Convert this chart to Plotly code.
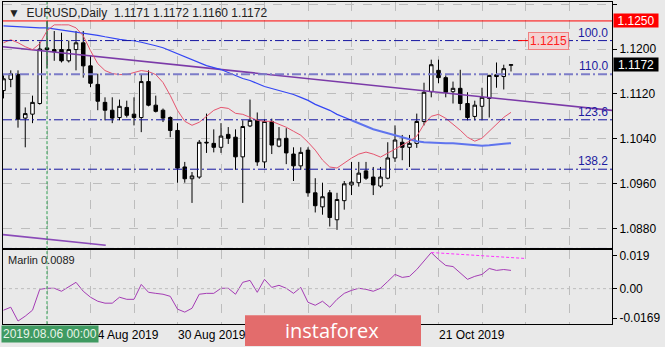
import plotly.graph_objects as go
from plotly.subplots import make_subplots

# ---------------- data ----------------
# trading-day index (0 = 2019.08.06)
idx = list(range(-6, 65))
opens = [1.1126, 1.1146, 1.1155, 1.1077, 1.1084, 1.1103, 1.1202, 1.1199, 1.1199, 1.1179,
         1.1199, 1.1211, 1.1170, 1.1137, 1.1105, 1.1091, 1.1078, 1.1096, 1.1084, 1.1078,
         1.1142, 1.1100, 1.1091, 1.1078, 1.1055, 1.0990, 1.0969, 1.0972, 1.1034, 1.1032,
         1.1025, 1.1048, 1.1043, 1.1008, 1.1063, 1.1073, 1.0999, 1.1071, 1.1027, 1.1041,
         1.1013, 1.0992, 1.1020, 1.0944, 1.0919, 1.0944, 1.0896, 1.0930, 1.0958, 1.0962,
         1.0983, 1.0972, 1.0956, 1.0970, 1.1006, 1.1034, 1.1025, 1.1032, 1.1071, 1.1124,
         1.1162, 1.1149, 1.1124, 1.1130, 1.1103, 1.1080, 1.1098, 1.1112, 1.1154, 1.1151,
         1.1171]
highs = [1.1153, 1.1162, 1.1162, 1.1096, 1.1117, 1.1213, 1.1250, 1.1232, 1.1229, 1.1215,
         1.1232, 1.1232, 1.1188, 1.1156, 1.1114, 1.1114, 1.1110, 1.1108, 1.1114, 1.1155,
         1.1162, 1.1117, 1.1094, 1.1080, 1.1068, 1.0999, 1.0981, 1.1038, 1.1085, 1.1057,
         1.1068, 1.1061, 1.1057, 1.1073, 1.1110, 1.1087, 1.1075, 1.1076, 1.1061, 1.1059,
         1.1025, 1.1025, 1.1025, 1.0970, 1.0962, 1.0949, 1.0944, 1.0965, 1.0999, 1.0999,
         1.0999, 1.0990, 1.0990, 1.1034, 1.1064, 1.1047, 1.1047, 1.1085, 1.1140, 1.1181,
         1.1181, 1.1153, 1.1142, 1.1163, 1.1123, 1.1108, 1.1131, 1.1154, 1.1176, 1.1172,
         1.1172]
lows = [1.1112, 1.1132, 1.1060, 1.1025, 1.1068, 1.1101, 1.1166, 1.1179, 1.1176, 1.1176,
        1.1162, 1.1149, 1.1132, 1.1091, 1.1073, 1.1068, 1.1073, 1.1078, 1.1064, 1.1052,
        1.1098, 1.1087, 1.1070, 1.1043, 1.0962, 1.0962, 1.0926, 1.0969, 1.1015, 1.1016,
        1.1015, 1.1031, 1.0985, 1.0926, 1.1061, 1.0992, 1.0988, 1.1013, 1.1025, 1.0995,
        1.0965, 1.0985, 1.0937, 1.0909, 1.0905, 1.0884, 1.0878, 1.0914, 1.0940, 1.0955,
        1.0967, 1.0940, 1.0953, 1.0968, 1.0999, 1.1002, 1.0990, 1.1024, 1.1064, 1.1114,
        1.1139, 1.1114, 1.1103, 1.1091, 1.1073, 1.1073, 1.1073, 1.1078, 1.1131, 1.1128,
        1.1160]
closes = [1.1147, 1.1156, 1.1075, 1.1085, 1.1105, 1.1200, 1.1199, 1.1195, 1.1179, 1.1199,
          1.1211, 1.1170, 1.1139, 1.1107, 1.1091, 1.1077, 1.1098, 1.1082, 1.1078, 1.1142,
          1.1100, 1.1089, 1.1077, 1.1055, 1.0988, 1.0969, 1.0974, 1.1034, 1.1033, 1.1025,
          1.1045, 1.1041, 1.1008, 1.1062, 1.1073, 1.0999, 1.1071, 1.1029, 1.1040, 1.1015,
          1.0992, 1.1016, 1.0944, 1.0921, 1.0937, 1.0900, 1.0932, 1.0960, 1.0963, 1.0979,
          1.0970, 1.0958, 1.0972, 1.1006, 1.1038, 1.1025, 1.1032, 1.1071, 1.1123, 1.1172,
          1.1149, 1.1123, 1.1130, 1.1103, 1.1078, 1.1100, 1.1114, 1.1153, 1.1151, 1.1165,
          1.1172]
ma_fast = [1.12112, 1.12165, 1.12112, 1.12041, 1.11988, 1.12094, 1.12324, 1.1243, 1.1243, 1.1243,
           1.12377, 1.12235, 1.1197, 1.1174, 1.11616, 1.11563, 1.11545, 1.11545, 1.11581, 1.11616,
           1.11598, 1.11545, 1.11404, 1.11173, 1.10908, 1.10713, 1.10642, 1.10696, 1.10802, 1.10908,
           1.10961, 1.10943, 1.10855, 1.10837, 1.10784, 1.10731, 1.10713, 1.10713, 1.1066, 1.10607,
           1.10536, 1.10465, 1.10341, 1.102, 1.10023, 1.09899, 1.09881, 1.0997, 1.10058, 1.10129,
           1.10165, 1.10129, 1.10076, 1.10147, 1.10218, 1.10288, 1.10359, 1.10448, 1.1066, 1.10802,
           1.10837, 1.10766, 1.1066, 1.10554, 1.1043, 1.10359, 1.10412, 1.10536, 1.1066, 1.10784,
           1.10872]
ma_slow = [1.12412, 1.12404, 1.12395, 1.12386, 1.12377, 1.12377, 1.12377, 1.12359, 1.12342, 1.12324,
           1.12306, 1.12288, 1.12271, 1.12244, 1.12218, 1.12191, 1.12173, 1.12156, 1.12147, 1.1212,
           1.12094, 1.12058, 1.12023, 1.1197, 1.11917, 1.11864, 1.11811, 1.11758, 1.11705, 1.11669,
           1.11634, 1.11581, 1.11528, 1.11474, 1.11439, 1.11386, 1.11333, 1.11297, 1.11262, 1.11227,
           1.11191, 1.11138, 1.11085, 1.11014, 1.10961, 1.10908, 1.10837, 1.10784, 1.10731, 1.10678,
           1.10625, 1.10572, 1.10536, 1.10501, 1.10465, 1.1043, 1.10395, 1.10359, 1.10341, 1.10333,
           1.10324, 1.10324, 1.10324, 1.10315, 1.10306, 1.10288, 1.1028, 1.10288, 1.10306, 1.10315,
           1.10324]
marlin = [-0.0123, -0.0106, -0.0185, -0.0157, -0.0123, -0.0004, 0.0002, 0.0002, -0.0015, 0.0013,
          0.0036, -0.0015, -0.0049, -0.0072, -0.0083, -0.0083, -0.0049, -0.0061, -0.0061, 0.0024,
          -0.0021, -0.0027, -0.0032, -0.0044, -0.0117, -0.0134, -0.0112, -0.0032, -0.0027, -0.0027,
          0.0002, 0.0002, -0.0032, 0.0036, 0.0047, -0.0021, 0.0053, 0.0007, 0.0019, 0.0002,
          -0.0027, 0.0007, -0.0078, -0.0095, -0.0072, -0.0106, -0.0061, -0.0027, -0.0010, 0.0002,
          -0.0004, -0.0015, 0.0002, 0.0041, 0.0081, 0.0064, 0.0070, 0.0109, 0.0155, 0.0206,
          0.0166, 0.0132, 0.0126, 0.0092, 0.0053, 0.0070, 0.0081, 0.0115, 0.0104, 0.0109,
          0.0104]
# divergence line on the oscillator
div_x = [53, 66]
div_y = [0.0206, 0.0172]
# trend channel (upper and lower)
upper_x = [-6.07, 77.93]
upper_y = [1.12041, 1.10908]
lower_x = [-6.07, 8.1]
lower_y = [1.08696, 1.08505]
# fibonacci levels
fib_labels = ["100.0", "110.0", "123.6", "138.2", "161.8"]
fib_prices = [1.1215, 1.1155, 1.1074, 1.0986, 1.0845]
resistance = 1.1250
marked_price = 1.1215
last_price = 1.1172
price_ticks = [1.0880, 1.0960, 1.1040, 1.1120, 1.1200, 1.1280]
osc_ticks = [0.019, 0.0, -0.0169]
osc_tick_text = ["0.019", "0.00", "-0.0169"]
date_pos = [6, 18, 54]
date_text = ["14 Aug 2019", "30 Aug 2019", "21 Oct 2019"]
split_at = 42  # slow MA drawn heavier from here on

# ---------------- layout helpers ----------------
W, H = 665, 347
def fx(p):
    return p / W
def fy(p):
    return 1 - p / H

FONT = "Liberation Sans"
BG = "#e9e9e9"

fig = make_subplots(rows=2, cols=1, shared_xaxes=True, vertical_spacing=0.0)

# trend channel
fig.add_trace(go.Scatter(x=upper_x, y=upper_y, mode="lines",
                         line=dict(color="#7b3aa8", width=1.6), hoverinfo="skip", showlegend=False), 1, 1)
fig.add_trace(go.Scatter(x=lower_x, y=lower_y, mode="lines",
                         line=dict(color="#8a4ab8", width=1.6), hoverinfo="skip", showlegend=False), 1, 1)

fig.add_trace(go.Candlestick(
    x=idx, open=opens, high=highs, low=lows, close=closes,
    increasing=dict(line=dict(color="#000000", width=1), fillcolor="#ffffff"),
    decreasing=dict(line=dict(color="#000000", width=1), fillcolor="#000000"),
    whiskerwidth=0, showlegend=False, hoverinfo="skip"), 1, 1)

k = idx.index(split_at)
fig.add_trace(go.Scatter(x=idx[:k + 1], y=ma_slow[:k + 1], mode="lines",
                         line=dict(color="#3446f4", width=1.2), hoverinfo="skip", showlegend=False), 1, 1)
fig.add_trace(go.Scatter(x=idx[k:], y=ma_slow[k:], mode="lines",
                         line=dict(color="#5f74ee", width=2), hoverinfo="skip", showlegend=False), 1, 1)
fig.add_trace(go.Scatter(x=idx, y=ma_fast, mode="lines",
                         line=dict(color="#e5546e", width=1), hoverinfo="skip", showlegend=False), 1, 1)

fig.add_trace(go.Scatter(x=idx, y=marlin, mode="lines",
                         line=dict(color="#a43cb4", width=1), hoverinfo="skip", showlegend=False), 2, 1)
fig.add_trace(go.Scatter(x=div_x, y=div_y, mode="lines",
                         line=dict(color="#ff33ff", width=1, dash="3px,2px"), hoverinfo="skip", showlegend=False), 2, 1)

shapes = []
for lab, pr in zip(fib_labels, fib_prices):
    if lab == "110.0":
        col, wd = "#7c7cc8", 2
    else:
        col, wd = "#1515a0", 1
    shapes.append(dict(type="line", xref="x domain", yref="y", x0=0, x1=1, y0=pr, y1=pr,
                       line=dict(color=col, width=wd, dash="9px,3px,2px,3px")))
shapes.append(dict(type="line", xref="x domain", yref="y", x0=0, x1=1, y0=resistance, y1=resistance,
                   line=dict(color="#ff0000", width=1)))
shapes.append(dict(type="line", xref="paper", yref="y", x0=fx(518), x1=fx(528), y0=marked_price, y1=marked_price,
                   line=dict(color="#ff0000", width=1)))
shapes.append(dict(type="line", xref="x2 domain", yref="y2", x0=0, x1=1, y0=0, y1=0,
                   line=dict(color="#bdbdbd", width=1, dash="3px,3px")))
shapes.append(dict(type="line", xref="x", yref="paper", x0=0, x1=0, y0=fy(325), y1=fy(1),
                   line=dict(color="#2e9e50", width=1, dash="3px,2px")))
shapes.append(dict(type="rect", xref="paper", yref="paper", x0=fx(245), x1=fx(421), y0=0, y1=fy(316),
                   fillcolor="#e36c6c", line=dict(width=0)))

ann = []
ann.append(dict(xref="paper", yref="paper", x=fx(6), y=fy(3), xanchor="left", yanchor="top",
                text="▼  EURUSD,Daily  1.1171 1.1172 1.1160 1.1172", showarrow=False,
                font=dict(family=FONT, size=12, color="#222222")))
ann.append(dict(xref="paper", yref="paper", x=fx(6), y=fy(252), xanchor="left", yanchor="top",
                text="Marlin 0.0089", showarrow=False,
                font=dict(family=FONT, size=11, color="#222222")))
for lab, pr in zip(fib_labels, fib_prices):
    ann.append(dict(xref="paper", yref="y", x=fx(610), y=pr, xanchor="right", yanchor="bottom",
                    text=lab, showarrow=False, yshift=-1,
                    font=dict(family=FONT, size=12, color="#1c1ca0")))
ann.append(dict(xref="paper", yref="y", x=fx(613), y=resistance, xanchor="left", yanchor="middle",
                text="1.1250", showarrow=False, bgcolor="#ff0000", width=44, height=13, borderpad=0,
                font=dict(family=FONT, size=12, color="#ffffff")))
ann.append(dict(xref="paper", yref="y", x=fx(613), y=last_price, xanchor="left", yanchor="middle",
                text="1.1172", showarrow=False, bgcolor="#000000", width=44, height=13, borderpad=0,
                font=dict(family=FONT, size=12, color="#ffffff")))
ann.append(dict(xref="paper", yref="y", x=fx(528), y=marked_price, xanchor="left", yanchor="middle",
                text="1.1215", showarrow=False, bgcolor="#f3d2d2", bordercolor="#f08080", borderwidth=1,
                borderpad=1, font=dict(family=FONT, size=12, color="#ff2020")))
for p, t in zip(date_pos, date_text):
    ann.append(dict(xref="x2", yref="paper", x=p, y=fy(327), xanchor="left", yanchor="top",
                    text=t, showarrow=False, xshift=-2,
                    font=dict(family=FONT, size=12, color="#000000")))
ann.append(dict(xref="paper", yref="paper", x=fx(1), y=fy(335), xanchor="left", yanchor="middle",
                text="2019.08.06 00:00", showarrow=False, bgcolor="#3f9a61",
                font=dict(family=FONT, size=12, color="#e8f4e8")))
ann.append(dict(xref="paper", yref="paper", x=fx(332), y=fy(331), xanchor="center", yanchor="middle",
                text="instaforex", showarrow=False,
                font=dict(family="Open Sans", size=20, color="#ffffff")))

fig.update_layout(
    width=W, height=H, margin=dict(l=0, r=0, t=0, b=0),
    paper_bgcolor=BG, plot_bgcolor=BG, showlegend=False,
    shapes=shapes, annotations=ann,
    xaxis=dict(domain=[fx(3), fx(612)], range=[-6.07, 77.93], tickmode="linear", tick0=0, dtick=6,
               showgrid=True, gridcolor="#bdbdbd", griddash="dash", gridwidth=1,
               showticklabels=False, showline=True, linecolor="#000000", mirror=True,
               zeroline=False, rangeslider=dict(visible=False)),
    xaxis2=dict(domain=[fx(3), fx(612)], range=[-6.07, 77.93], tickmode="linear", tick0=0, dtick=6,
                showgrid=True, gridcolor="#bdbdbd", griddash="dash", gridwidth=1,
                showticklabels=False, showline=True, linecolor="#000000", mirror=True,
                zeroline=False, rangeslider=dict(visible=False)),
    yaxis=dict(domain=[fy(248), fy(1)], range=[1.08465, 1.12837], side="right",
               tickmode="array", tickvals=price_ticks, ticktext=[f"{v:.4f}" for v in price_ticks],
               ticks="outside", ticklen=4, tickcolor="#000000",
               showgrid=True, gridcolor="#bdbdbd", griddash="dash",
               showline=True, linecolor="#000000", mirror=True, zeroline=False,
               tickfont=dict(family=FONT, size=12, color="#000000")),
    yaxis2=dict(domain=[fy(325), fy(250)], range=[-0.02025, 0.02229], side="right",
                tickmode="array", tickvals=osc_ticks, ticktext=osc_tick_text,
                ticks="outside", ticklen=4, tickcolor="#000000",
                showgrid=False, showline=True, linecolor="#000000", mirror=True, zeroline=False,
                tickfont=dict(family=FONT, size=12, color="#000000")),
)

fig.write_html("out.html")
